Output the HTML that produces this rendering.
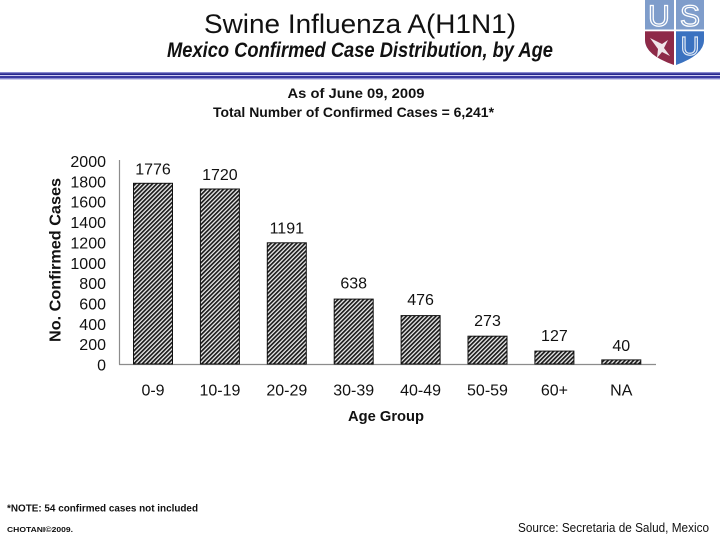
<!DOCTYPE html>
<html><head><meta charset="utf-8"><style>
html,body{margin:0;padding:0;background:#fff;}
svg{display:block;}
text{font-family:"Liberation Sans",Arial,sans-serif;}
</style></head><body>
<svg width="720" height="540" viewBox="0 0 720 540" xmlns="http://www.w3.org/2000/svg">
<defs>
<pattern id="h" width="3" height="3" patternUnits="userSpaceOnUse" patternTransform="rotate(45)">
<rect width="3" height="3" fill="#eeeeee"/>
<rect x="0" y="0" width="1.7" height="3" fill="#1a1a1a"/>
</pattern>
</defs>
<rect width="720" height="540" fill="#fff"/>

<!-- Title -->
<text x="360" y="33" font-size="27" text-anchor="middle" textLength="312" lengthAdjust="spacingAndGlyphs" fill="#111">Swine Influenza A(H1N1)</text>
<text x="360" y="57" font-size="21" font-weight="bold" font-style="italic" text-anchor="middle" textLength="386" lengthAdjust="spacingAndGlyphs" fill="#111">Mexico Confirmed Case Distribution, by Age</text>

<!-- Logo -->
<g>
<path d="M645 0 H704 V40 Q704 55 675 65 Q645 55 645 40 Z" fill="#7f9dcb"/>
<path d="M645 31 H674 V65 Q645 55 645 40 Z" fill="#8e2a48"/>
<path d="M676 31 H704 V40 Q704 55 676 65 Z" fill="#3b72c0"/>
<rect x="674" y="0" width="2" height="66" fill="#fff"/>
<rect x="645" y="29.5" width="59" height="1.8" fill="#fff"/>
<text x="659" y="26" font-size="30" text-anchor="middle" fill="none" stroke="#fff" stroke-width="1.3" font-family="Liberation Serif">U</text>
<text x="690" y="26" font-size="30" text-anchor="middle" fill="none" stroke="#fff" stroke-width="1.3" font-family="Liberation Serif">S</text>
<text x="690" y="55" font-size="26" text-anchor="middle" fill="none" stroke="#dfe8f5" stroke-width="1.2" font-family="Liberation Serif">U</text>
<path d="M650 38 L662 44 L668 40 L664 48 L670 56 L662 52 L657 58 L658 49 Z" fill="#f0e6ea"/>
</g>

<!-- Header lines -->
<rect x="0" y="72" width="720" height="1.2" fill="#8a8ad0"/>
<rect x="0" y="73.2" width="720" height="1.8" fill="#26268f"/>
<rect x="0" y="75" width="720" height="1" fill="#d0d0f2"/>
<rect x="0" y="76" width="720" height="2" fill="#3a3aa0"/>
<rect x="0" y="78" width="720" height="1.4" fill="#8a8ad0"/>

<!-- Subheads -->
<text x="356" y="98" font-size="14" font-weight="bold" text-anchor="middle" textLength="137" lengthAdjust="spacingAndGlyphs" fill="#111">As of June 09, 2009</text>
<text x="353.5" y="117" font-size="14" font-weight="bold" text-anchor="middle" textLength="281" lengthAdjust="spacingAndGlyphs" fill="#111">Total Number of Confirmed Cases = 6,241*</text>

<!-- Axes -->
<line x1="119.5" y1="160" x2="119.5" y2="364.5" stroke="#8c8c8c" stroke-width="1.2"/>
<line x1="119" y1="364.5" x2="656" y2="364.5" stroke="#8c8c8c" stroke-width="1.2"/>

<!-- Y tick labels -->
<g font-size="16" text-anchor="end" fill="#111">
<text x="106" y="370.5">0</text>
<text x="106" y="350.2">200</text>
<text x="106" y="329.8">400</text>
<text x="106" y="309.5">600</text>
<text x="106" y="289.1">800</text>
<text x="106" y="268.8">1000</text>
<text x="106" y="248.4">1200</text>
<text x="106" y="228.1">1400</text>
<text x="106" y="207.7">1600</text>
<text x="106" y="187.4">1800</text>
<text x="106" y="167.0">2000</text>
</g>

<!-- Y axis title -->
<text transform="translate(60.5,260) rotate(-90)" font-size="16" font-weight="bold" text-anchor="middle" textLength="164" lengthAdjust="spacingAndGlyphs" fill="#111">No. Confirmed Cases</text>

<!-- Bars -->
<g fill="url(#h)" stroke="#111" stroke-width="1">
<rect x="133.5" y="183.3" width="39" height="180.7"/>
<rect x="200.4" y="189.0" width="39" height="175.0"/>
<rect x="267.3" y="242.8" width="39" height="121.2"/>
<rect x="334.2" y="299.1" width="39" height="64.9"/>
<rect x="401.1" y="315.6" width="39" height="48.4"/>
<rect x="468.0" y="336.2" width="39" height="27.8"/>
<rect x="534.9" y="351.1" width="39" height="12.9"/>
<rect x="601.8" y="359.9" width="39" height="4.1"/>
</g>

<!-- Data labels -->
<g font-size="16" text-anchor="middle" fill="#111">
<text x="153" y="174.3">1776</text>
<text x="219.9" y="180">1720</text>
<text x="286.8" y="233.5">1191</text>
<text x="353.7" y="288.5">638</text>
<text x="420.6" y="305">476</text>
<text x="487.5" y="326">273</text>
<text x="554.4" y="341">127</text>
<text x="621.3" y="351">40</text>
</g>

<!-- X labels -->
<g font-size="16" text-anchor="middle" fill="#111">
<text x="153" y="395.5">0-9</text>
<text x="219.9" y="395.5">10-19</text>
<text x="286.8" y="395.5">20-29</text>
<text x="353.7" y="395.5">30-39</text>
<text x="420.6" y="395.5">40-49</text>
<text x="487.5" y="395.5">50-59</text>
<text x="554.4" y="395.5">60+</text>
<text x="621.3" y="395.5">NA</text>
</g>
<text x="386" y="421" font-size="15" font-weight="bold" text-anchor="middle" textLength="76" lengthAdjust="spacingAndGlyphs" fill="#111">Age Group</text>

<!-- Footer -->
<text x="7" y="511.5" font-size="10" font-weight="bold" textLength="191" lengthAdjust="spacingAndGlyphs" fill="#111">*NOTE: 54 confirmed cases not included</text>
<text x="7" y="532" font-size="7" font-weight="bold" textLength="66" lengthAdjust="spacingAndGlyphs" fill="#111">CHOTANI©2009.</text>
<text x="518" y="532" font-size="13" textLength="191" lengthAdjust="spacingAndGlyphs" fill="#111">Source: Secretaria de Salud, Mexico</text>
</svg>
</body></html>
